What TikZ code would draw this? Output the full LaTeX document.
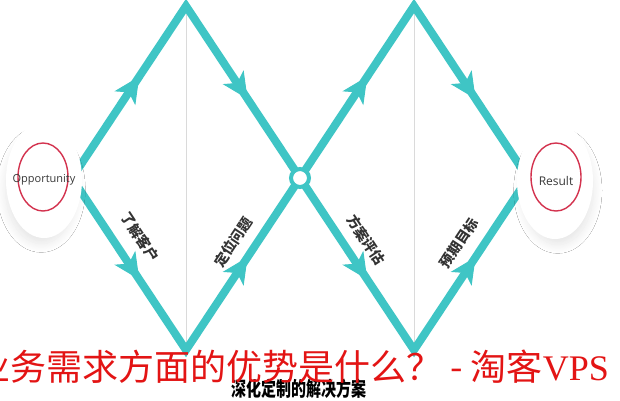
\documentclass[tikz,border=0pt]{standalone}
\usepackage{fontspec}
\setmainfont{Open Sans}
\newfontfamily\cjk{Noto Sans CJK SC}
\newfontfamily\vpsfont{Liberation Serif}
\usetikzlibrary{arrows.meta,decorations.markings,shadows.blur,shapes.geometric}
\definecolor{flowteal}{HTML}{3FC5C5}
\definecolor{ringred}{HTML}{D3324E}
\definecolor{wmred}{HTML}{E31414}
\definecolor{guidegray}{HTML}{DADADA}
\definecolor{labelgray}{HTML}{333333}
\begin{document}
\begin{tikzpicture}[x=1pt,y=-1pt,
  flow/.style={draw=flowteal,color=flowteal,line width=8pt,line join=miter,
    postaction={decorate},
    decoration={markings,
      mark=at position 0.1475 with {\arrow{Stealth[length=26pt,width=25pt,inset=7pt,line width=1pt]}},
      mark=at position 0.385 with {\arrow{Stealth[length=26pt,width=25pt,inset=7pt,line width=1pt]}},
      mark=at position 0.6475 with {\arrow{Stealth[length=26pt,width=25pt,inset=7pt,line width=1pt]}},
      mark=at position 0.885 with {\arrow{Stealth[length=26pt,width=25pt,inset=7pt,line width=1pt]}}}},
  guide/.style={draw=guidegray,line width=0.8pt},
  disk/.style={ellipse,fill=white,minimum width=76pt,minimum height=116pt,inner sep=0pt,
    blur shadow={shadow blur steps=12,shadow xshift=#1,shadow yshift=-10pt,shadow scale=0.94,shadow opacity=10,shadow blur radius=9pt}},
  ring/.style={ellipse,draw=ringred,line width=1.4pt,minimum width=50pt,minimum height=68pt,inner sep=0pt},
  steplabel/.style={font=\cjk\bfseries\fontsize{14}{14}\selectfont,text=labelgray,inner sep=0pt},
  hub/.style={circle,draw=flowteal,fill=white,line width=4pt,minimum size=18pt,inner sep=0pt}]
\fill[white] (0,0) rectangle (620,400);
\useasboundingbox (0,0) rectangle (620,400);

\coordinate (L) at (72,178);
\coordinate (P1) at (186,6);
\coordinate (C) at (300,178);
\coordinate (P2) at (414,6);
\coordinate (R) at (528,178);
\coordinate (V1) at (186,350);
\coordinate (V2) at (414,350);
\coordinate (G1t) at (186,0);
\coordinate (G2t) at (414,0);

\draw[guide] (G1t) -- (V1);
\draw[guide] (G2t) -- (V2);

\draw[flow] (L) -- (P1) -- (C) -- (P2) -- (R);
\draw[flow] (L) -- (V1) -- (C) -- (V2) -- (R);

\node[hub] (hubnode) at (C) {};

\node[disk=-3pt] (oppdisk) at (44,180) {};
\node[ring] (oppring) at (43,177) {};
\node[font=\fontsize{11}{11}\selectfont,text=black!78] (opp) at (44,180) {Opportunity};

\node[disk=3pt] (resdisk) at (555,181) {};
\node[ring] (resring) at (556,177) {};
\node[font=\fontsize{12}{12}\selectfont,text=black!78] (res) at (556,181) {Result};

\node[steplabel,rotate=-56.5] (s1) at (140,237) {了解客户};
\node[steplabel,rotate=56.5] (s2) at (233,242) {定位问题};
\node[steplabel,rotate=-56.5] (s3) at (366,240) {方案评估};
\node[steplabel,rotate=56.5] (s4) at (459,243) {预期目标};

\node[font=\cjk\bfseries\fontsize{20}{20}\selectfont,text=black,anchor=base,xscale=0.75,inner sep=0pt] (sol) at (299,396) {深化定制的解决方案};

\node[font=\cjk\fontsize{36}{36}\selectfont,text=wmred,anchor=base west,inner sep=0pt] (wm) at (-26,380) {业务需求方面的优势是什么？ - 淘客{\vpsfont VPS}};
\end{tikzpicture}
\end{document}
